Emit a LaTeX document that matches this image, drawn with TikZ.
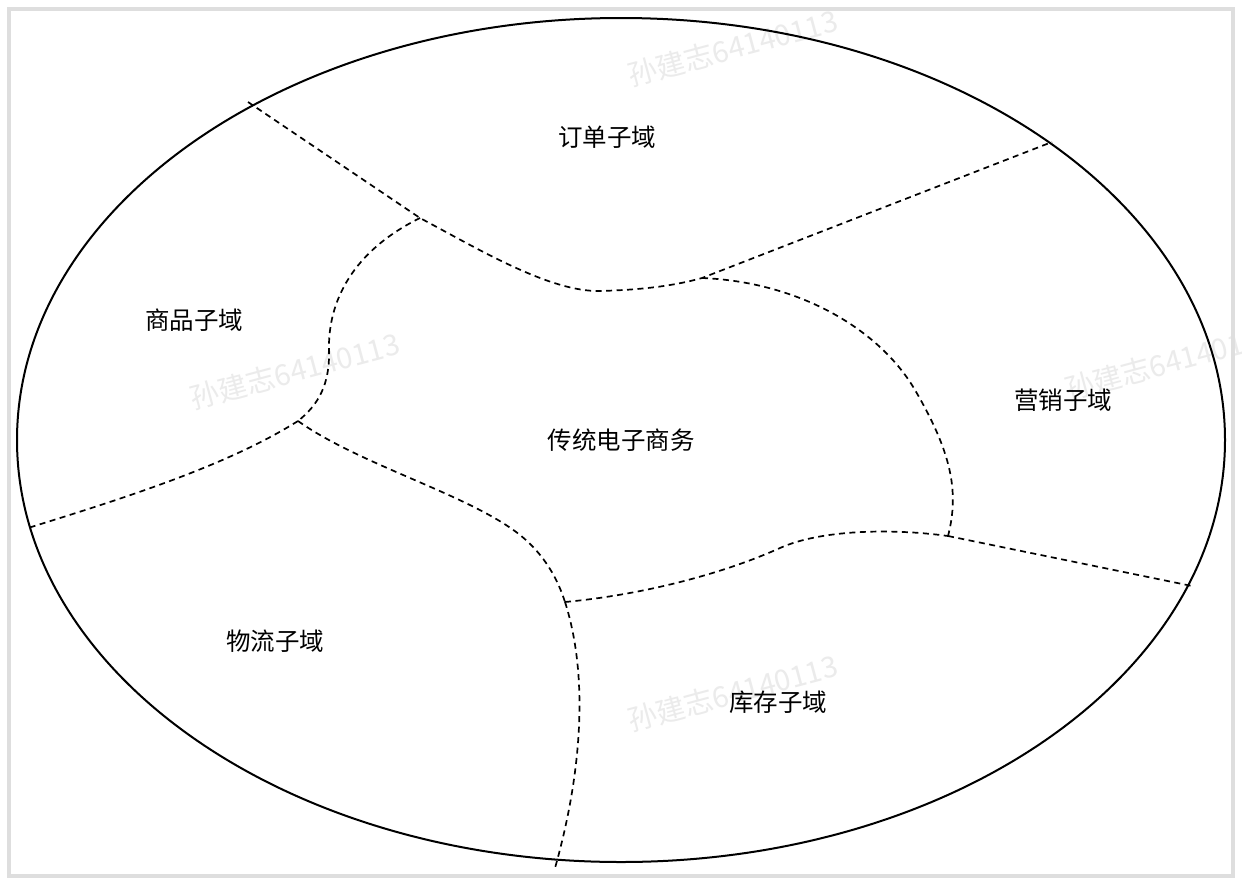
\documentclass[tikz,border=0pt]{standalone}
\usepackage{fontspec}
\setmainfont{Noto Sans CJK SC}
\begin{document}
\begin{tikzpicture}[x=1pt,y=-1pt,
  boundary/.style={draw=black, line width=1.7pt, dash pattern=on 6pt off 4.5pt},
  region/.style={font=\fontsize{24.5}{28}\selectfont, text=black, inner sep=0pt},
  wm/.style={font=\fontsize{29}{33}\selectfont, text=black!8, rotate=15, inner sep=0pt}]
\useasboundingbox (0,0) rectangle (1242,884);
\fill[white] (0,0) rectangle (1242,884);
% watermarks
\begin{scope}
\clip (0,0) rectangle (1242,884);
\node[wm] (w1) at (733,48) {孙建志64140113};
\node[wm] (w2) at (295,371) {孙建志64140113};
\node[wm] (w3) at (1170,362) {孙建志64140113};
\node[wm] (w4) at (733,693) {孙建志64140113};
\end{scope}
% frame
\draw[line width=4pt, draw=black!13] (9,9) rectangle (1233,876);
% outer domain
\draw[line width=2pt] (621,440) ellipse [x radius=604pt, y radius=422pt];
% junctions and boundary ends
\coordinate (E1) at (248,102);
\coordinate (J1) at (420,218);
\coordinate (D1) at (600,291);
\coordinate (J2) at (702,278);
\coordinate (E2) at (1052,142);
\coordinate (J3) at (298,421);
\coordinate (E3) at (28,528);
\coordinate (J4) at (565,602);
\coordinate (E4) at (555,868);
\coordinate (J5) at (948,536);
\coordinate (E5) at (1192,586);
% boundaries
\draw[boundary] (E1) -- (J1) .. controls (480,250) and (550,292) .. (D1)
  .. controls (635,290) and (670,287) .. (J2) -- (E2);
\draw[boundary] (J1) .. controls (345,255) and (328,310) .. (329,350)
  .. controls (330,385) and (318,405) .. (J3);
\draw[boundary] (J3) .. controls (228,465) and (128,497) .. (E3);
\draw[boundary] (J3) .. controls (360,465) and (470,495) .. (520,535)
  .. controls (545,555) and (558,580) .. (J4);
\draw[boundary] (J4) .. controls (590,680) and (580,780) .. (E4);
\draw[boundary] (J4) .. controls (640,595) and (720,575) .. (780,548)
  .. controls (820,530) and (890,528) .. (J5);
\draw[boundary] (J5) -- (E5);
\draw[boundary] (J2) .. controls (800,282) and (880,330) .. (915,390)
  .. controls (950,450) and (960,490) .. (J5);
% labels
\node[region] (order) at (607,137) {订单子域};
\node[region] (goods) at (194,320) {商品子域};
\node[region] (core) at (621,440) {传统电子商务};
\node[region] (market) at (1063,400) {营销子域};
\node[region] (logis) at (275,641) {物流子域};
\node[region] (stock) at (778,702) {库存子域};
\end{tikzpicture}
\end{document}
